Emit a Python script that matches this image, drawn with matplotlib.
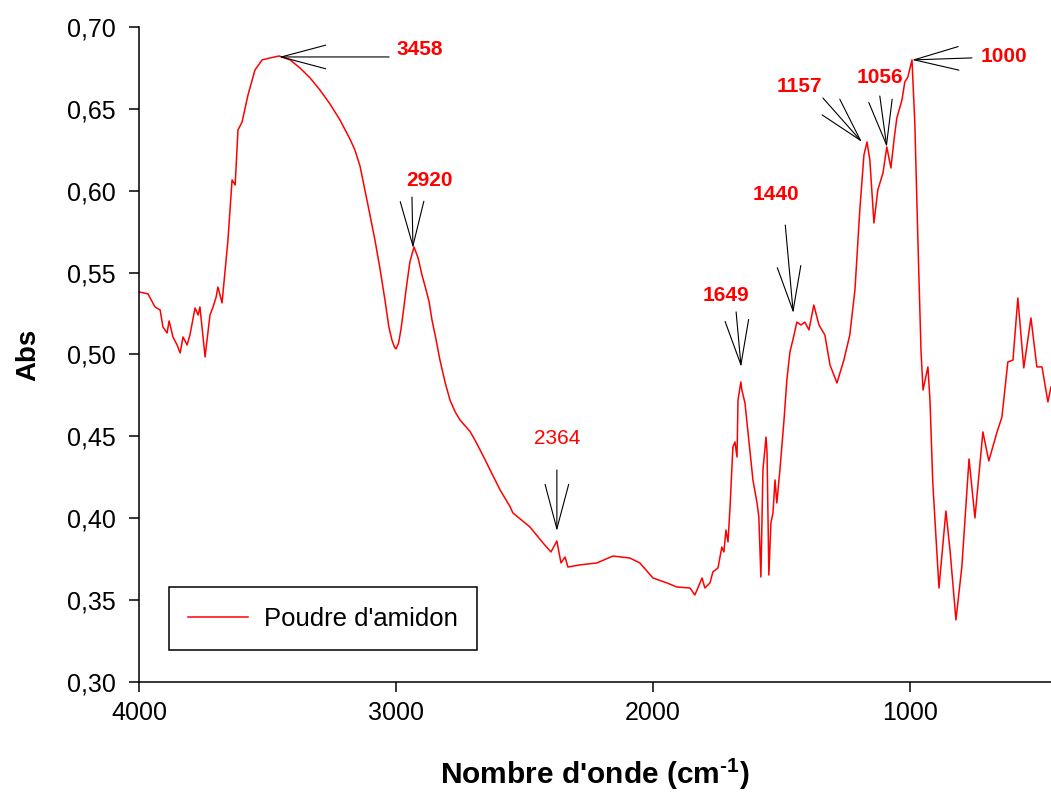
import matplotlib
matplotlib.use("Agg")
import matplotlib.pyplot as plt

plt.rcParams['font.family'] = ['Liberation Sans', 'DejaVu Sans']
plt.rcParams['mathtext.fontset'] = 'custom'
plt.rcParams['mathtext.rm'] = 'Liberation Sans:bold'
plt.rcParams['mathtext.bf'] = 'Liberation Sans:bold'

# spectrum (wavenumber cm-1, absorbance)
wavenumber = [4000, 3965, 3938, 3918, 3907, 3891, 3883, 3868, 3852, 3840,
              3829, 3813, 3802, 3782, 3770, 3763, 3751, 3743, 3724, 3712,
              3700, 3693, 3677, 3665, 3654, 3638, 3626, 3615, 3599, 3576,
              3549, 3521, 3490, 3455, 3412, 3374, 3335, 3296, 3257, 3218,
              3179, 3160, 3140, 3121, 3101, 3082, 3062, 3043, 3028, 3016,
              3006, 3000, 2990, 2981, 2970, 2961, 2946, 2930, 2914, 2899,
              2883, 2871, 2860, 2844, 2829, 2809, 2790, 2770, 2751, 2712,
              2693, 2654, 2634, 2595, 2556, 2545, 2479,
              2428, 2397, 2374, 2358, 2342, 2331, 2284, 2218, 2156, 2090,
              2051, 2000, 1946, 1907, 1856, 1837, 1809, 1798, 1778, 1767,
              1747, 1732, 1724, 1716, 1708, 1700, 1689, 1681, 1673, 1669,
              1658, 1654, 1642, 1634, 1622, 1611, 1595, 1588, 1580, 1572,
              1560, 1556, 1549, 1541, 1533, 1525, 1518, 1506, 1490, 1479,
              1467, 1451, 1440, 1424, 1409, 1393, 1374, 1354, 1331, 1311,
              1284, 1257, 1234, 1214, 1195, 1179, 1167, 1156, 1140, 1125,
              1105, 1090, 1074, 1062, 1051, 1031, 1020, 1008, 992, 981,
              969, 957, 949, 930, 922, 911, 887, 860, 844, 821,
              798, 770, 747, 716, 693, 662, 642, 619, 599, 580,
              557, 529, 506, 486, 463, 451]
absorbance = [0.5382, 0.5370, 0.5290, 0.5272, 0.5168, 0.5131, 0.5205, 0.5107, 0.5058, 0.5009,
              0.5107, 0.5058, 0.5119, 0.5284, 0.5241, 0.5290, 0.5107, 0.4985, 0.5241, 0.5290,
              0.5351, 0.5412, 0.5315, 0.5516, 0.5699, 0.6066, 0.6035, 0.6371, 0.6420, 0.6585,
              0.6737, 0.6799, 0.6811, 0.6823, 0.6799, 0.6750, 0.6690, 0.6615, 0.6530, 0.6432,
              0.6315, 0.6249, 0.6150, 0.6005, 0.5850, 0.5699, 0.5520, 0.5333, 0.5170, 0.5089,
              0.5045, 0.5034, 0.5070, 0.5150, 0.5280, 0.5394, 0.5565, 0.5657, 0.5589, 0.5486,
              0.5394, 0.5320, 0.5211, 0.5090, 0.4966, 0.4830, 0.4722, 0.4650, 0.4600, 0.4530,
              0.4478, 0.4360, 0.4295, 0.4173, 0.4070, 0.4032, 0.3947,
              0.3849, 0.3794, 0.3861, 0.3727, 0.3763, 0.3702, 0.3715, 0.3727, 0.3769, 0.3757,
              0.3727, 0.3635, 0.3605, 0.3580, 0.3574, 0.3531, 0.3635, 0.3574, 0.3605, 0.3672,
              0.3696, 0.3824, 0.3794, 0.3928, 0.3855, 0.4069, 0.4435, 0.4466, 0.4374, 0.4722,
              0.4832, 0.4783, 0.4704, 0.4582, 0.4398, 0.4234, 0.4093, 0.4008, 0.3641, 0.4295,
              0.4496, 0.4398, 0.3653, 0.3971, 0.4032, 0.4234, 0.4093, 0.4295, 0.4600, 0.4844,
              0.5015, 0.5119, 0.5198, 0.5180, 0.5198, 0.5150, 0.5302, 0.5180, 0.5119, 0.4936,
              0.4826, 0.4966, 0.5119, 0.5394, 0.5883, 0.6218, 0.6298, 0.6188, 0.5803, 0.6005,
              0.6108, 0.6267, 0.6139, 0.6310, 0.6444, 0.6554, 0.6664, 0.6695, 0.6799, 0.6414,
              0.5699, 0.5028, 0.4783, 0.4924, 0.4722, 0.4215, 0.3574, 0.4044, 0.3806, 0.3379,
              0.3702, 0.4362, 0.4002, 0.4527, 0.4350, 0.4521, 0.4618, 0.4954, 0.4966, 0.5345,
              0.4918, 0.5223, 0.4924, 0.4924, 0.4710, 0.4802]

# peak labels and where their arrows point
peak_labels = ['3458', '2920', '2364', '1649', '1440', '1157', '1056', '1000']
peak_tip_x = [3455, 2934, 2374, 1657, 1454, 1187, 1090, 992]
peak_tip_y = [0.6817, 0.5650, 0.3922, 0.4924, 0.5253, 0.6298, 0.6267, 0.6799]
peak_bold = [True, True, False, True, True, True, True, True]
# arrow tail and label offsets from the tip, in pixels
tail_offset = [(110, 0), (-1, 51), (0, 61), (-5, 55), (-8, 88), (-39, 44), (-7, 51), (60, 2)]
label_offset = [(141, 7), (17, 68), (0, 92), (-15, 71), (-17, 119), (-63, 55), (-7, 70), (92, 3)]

fig = plt.figure(figsize=(10.51, 7.94), dpi=100)
ax = fig.add_axes([0.1323, 0.1411, 0.8677, 0.8249])

ax.plot(wavenumber, absorbance, color='#ff0000', lw=1.1, label="Poudre d'amidon")

for lab, tx, ty, bold, toff, loff in zip(peak_labels, peak_tip_x, peak_tip_y,
                                         peak_bold, tail_offset, label_offset):
    ax.annotate('', xy=(tx, ty), xytext=toff, textcoords='offset pixels',
                arrowprops=dict(arrowstyle='->,head_length=3.2,head_width=0.85',
                                mutation_scale=10, color='black', lw=0.8,
                                shrinkA=0, shrinkB=0))
    ax.annotate(lab, xy=(tx, ty), xytext=loff, textcoords='offset pixels',
                ha='center', va='center', color='#ff0000', fontsize=15,
                fontweight='bold' if bold else 'normal')

ax.set_xlim(4000, 451)
ax.set_ylim(0.30, 0.70)
ax.set_xticks([4000, 3000, 2000, 1000])
yt = [0.30, 0.35, 0.40, 0.45, 0.50, 0.55, 0.60, 0.65, 0.70]
ax.set_yticks(yt)
ax.set_yticklabels([f'{v:.2f}'.replace('.', ',') for v in yt])
ax.tick_params(direction='out', length=7, width=1.1, labelsize=18)
ax.tick_params(axis='y', pad=10)
ax.tick_params(axis='x', pad=7)

for s in ['top', 'right']:
    ax.spines[s].set_visible(False)
for s in ['left', 'bottom']:
    ax.spines[s].set_linewidth(1.1)

ax.set_xlabel(r"Nombre d'onde (cm$^{\text{-1}}$)", fontsize=21.5, fontweight='bold', labelpad=22)
ax.set_ylabel('Abs', fontsize=20, fontweight='bold', labelpad=18)

leg = ax.legend(loc='lower left', bbox_to_anchor=(0.033, 0.049), borderaxespad=0,
                fontsize=18.5, fancybox=False, edgecolor='black', framealpha=1,
                handlelength=2.3, handletextpad=0.65, borderpad=0.75)
leg.get_frame().set_linewidth(1.1)

fig.savefig('out.png', dpi=100)
